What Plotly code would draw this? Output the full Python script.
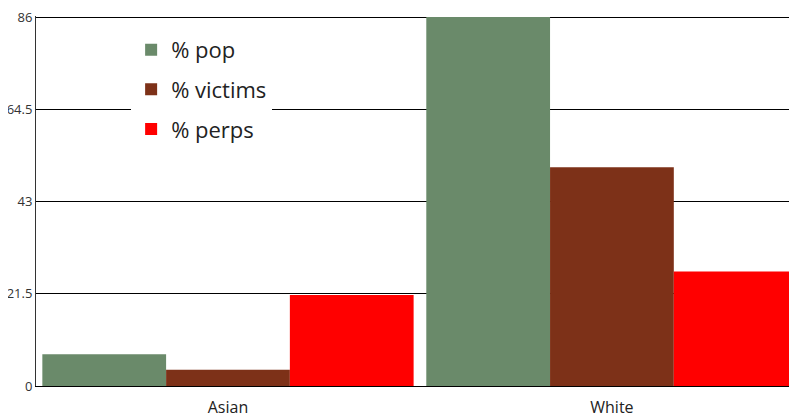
import plotly.graph_objects as go

categories = ["Asian", "White"]
pop = [7.4, 86]
victims = [3.8, 51]
perps = [21.2, 26.7]
series_names = ["% pop", "% victims", "% perps"]
colors = ["#6a8a6a", "#7d3118", "#ff0000"]
tick_vals = [0, 21.5, 43, 64.5, 86]
tick_text = ["0", "21.5", "43", "64.5", "86"]

fig = go.Figure()
for i, (name, vals, col) in enumerate(zip(series_names, [pop, victims, perps], colors)):
    fig.add_trace(go.Bar(x=categories, y=vals, name=name, marker=dict(color=col, line=dict(width=0)),
                         legendgroup=f"g{i}"))

# page body has an 8px default margin, so the figure is sized/offset to compensate
fig.update_layout(
    width=789, height=412,
    margin=dict(l=28, r=0, t=8, b=34),
    paper_bgcolor="white", plot_bgcolor="white",
    barmode="group", bargap=0.033, bargroupgap=0,
    font=dict(family="Open Sans, Noto Sans, sans-serif", color="#333333"),
    showlegend=True,
    legend=dict(x=0.125, y=0.965, xanchor="left", yanchor="top", bgcolor="white", borderwidth=0,
                font=dict(size=22, color="#222222"), tracegroupgap=8, traceorder="grouped"),
    xaxis=dict(range=[-0.5, 1.482], showgrid=False, showline=True, linecolor="black", linewidth=1,
               ticks="", ticklabelstandoff=7, automargin=False, tickfont=dict(size=16, color="#222222")),
    yaxis=dict(range=[0, 86.25], tickvals=tick_vals, ticktext=tick_text, showgrid=True, gridcolor="black",
               gridwidth=1, showline=True, linecolor="#333333", linewidth=1, zeroline=False,
               ticks="", ticklabeloverflow="allow", automargin=False, tickfont=dict(size=13, color="#333333")),
)
fig.write_html("out.html")
